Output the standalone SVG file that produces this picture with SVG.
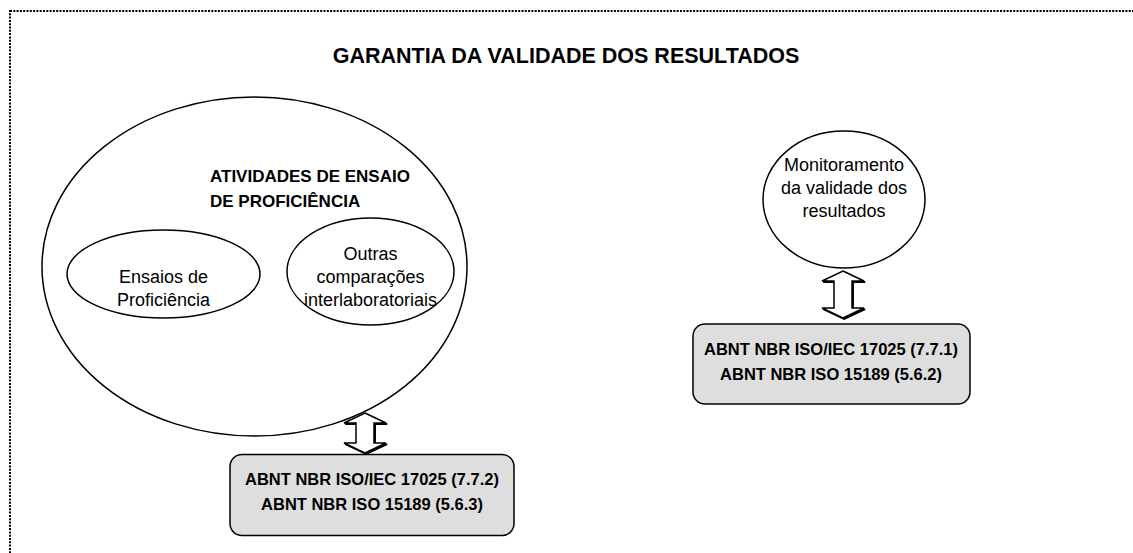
<svg xmlns="http://www.w3.org/2000/svg" width="1133" height="553" viewBox="0 0 1133 553">
<style>
.t{font-family:"Liberation Sans",Arial,sans-serif;fill:#000}
.b{font-weight:bold}
.ell{fill:none;stroke:#000;stroke-width:1.5}
.box{fill:#dedede;stroke:#000;stroke-width:1.5}
.arr{fill:#fff;stroke:#000;stroke-width:1.5;stroke-linejoin:miter}
.sh{fill:#000;stroke:#000;stroke-width:1.5}
</style>
<defs>
<path id="a1" d="M365 413 L386 423 L374 423 L374 443 L386 443 L365 453 L344 443 L356 443 L356 423 L344 423 Z"/>
<path id="a2" d="M843 271 L864 281 L852 281 L852 308 L864 308 L843 318 L822 308 L834 308 L834 281 L822 281 Z"/>
</defs>
<rect x="10" y="11" width="1140" height="560" fill="none" stroke="#000" stroke-width="2" stroke-dasharray="2 1.3"/>
<text class="t b" x="566" y="63" font-size="21.5" text-anchor="middle">GARANTIA DA VALIDADE DOS RESULTADOS</text>
<g id="atividades">
<ellipse class="ell" cx="254.5" cy="266.5" rx="212.5" ry="169.5"/>
<text class="t b" x="210" y="182" font-size="17">ATIVIDADES DE ENSAIO</text>
<text class="t b" x="210" y="207" font-size="17">DE PROFICIÊNCIA</text>
</g>
<g id="ensaios">
<ellipse class="ell" cx="163.5" cy="274" rx="96.5" ry="44"/>
<text class="t" x="163.5" y="283" font-size="18" text-anchor="middle">Ensaios de</text>
<text class="t" x="163.5" y="306" font-size="18" text-anchor="middle">Proficiência</text>
</g>
<g id="outras">
<ellipse class="ell" cx="370.5" cy="271.5" rx="83.5" ry="53.5"/>
<text class="t" x="370.5" y="260" font-size="18" text-anchor="middle">Outras</text>
<text class="t" x="370.5" y="283" font-size="18" text-anchor="middle">comparações</text>
<text class="t" x="370.5" y="306" font-size="18" text-anchor="middle">interlaboratoriais</text>
</g>
<g id="monitoramento">
<ellipse class="ell" cx="844" cy="199.5" rx="81" ry="68.5"/>
<text class="t" x="844" y="171" font-size="18" text-anchor="middle">Monitoramento</text>
<text class="t" x="844" y="194" font-size="18" text-anchor="middle">da validade dos</text>
<text class="t" x="844" y="217" font-size="18" text-anchor="middle">resultados</text>
</g>
<g id="connectors">
<use href="#a1" class="sh" transform="translate(1.2 1.2)"/>
<use href="#a1" class="arr"/>
<use href="#a2" class="sh" transform="translate(1.2 1.2)"/>
<use href="#a2" class="arr"/>
</g>
<g id="box1">
<rect class="box" x="230" y="454.5" width="284" height="81" rx="12"/>
<text class="t b" x="372" y="485" font-size="16.5" text-anchor="middle">ABNT NBR ISO/IEC 17025 (7.7.2)</text>
<text class="t b" x="372" y="510" font-size="16.5" text-anchor="middle">ABNT NBR ISO 15189 (5.6.3)</text>
</g>
<g id="box2">
<rect class="box" x="693" y="324" width="277" height="80" rx="12"/>
<text class="t b" x="831" y="355" font-size="16.5" text-anchor="middle">ABNT NBR ISO/IEC 17025 (7.7.1)</text>
<text class="t b" x="831" y="380" font-size="16.5" text-anchor="middle">ABNT NBR ISO 15189 (5.6.2)</text>
</g>
</svg>
